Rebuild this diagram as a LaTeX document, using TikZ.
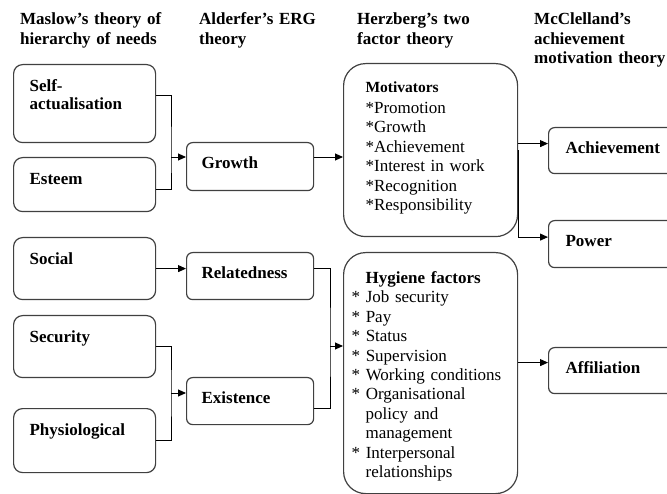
\documentclass[tikz,border=0pt]{standalone}
\usepackage{fontspec}
\setmainfont{Liberation Serif}
\usetikzlibrary{positioning,arrows.meta}
\tikzset{
  box/.style ={draw=black!75, line width=1.2pt, align=left, inner ysep=4pt,
               font=\bfseries\fontsize{17}{18}\selectfont},
  need/.style={box, rounded corners=9pt, text width=110pt, inner xsep=16pt,
               text height=23pt, text depth=#1, anchor=north west},
  erg/.style ={box, rounded corners=6pt, text width=97pt, inner xsep=15pt,
               text height=22pt, text depth=#1, anchor=north west},
  mcc/.style ={box, rounded corners=6pt, text width=106pt, inner xsep=17pt,
               text height=22pt, text depth=#1, anchor=north west},
  herz/.style={box, rounded corners=22pt, anchor=north west,
               font=\fontsize{17}{19.4}\selectfont},
  hdr/.style ={font=\bfseries\fontsize{17}{19.5}\selectfont, align=left,
               text width=150pt, inner sep=0pt, anchor=base west},
  fl/.style  ={-{Triangle[length=8pt,width=7pt]}, line width=0.9pt},
  ln/.style  ={line width=0.9pt},
}
\newcommand{\ind}{\hspace*{14pt}}
\newcommand{\stx}{{*}}

\begin{document}
\begin{tikzpicture}[x=1pt, y=-1pt]
  \useasboundingbox (0,0) rectangle (667,494);
  \clip (0,0) rectangle (667,494);

  % column headings
  \node[hdr] (maslow)     at (20,25)  {Maslow's theory of\\hierarchy of needs};
  \node[hdr] (alderfer)   at (199,25) {Alderfer's ERG\\theory};
  \node[hdr] (herzberg)   at (357,25) {Herzberg's two\\factor theory};
  \node[hdr] (mcclelland) at (534,25) {McClelland's\\achievement\\motivation theory};

  % Maslow
  \node[need=47pt] (sa)  at (13,64)  {Self-\\actualisation};
  \node[need=23pt] (est) at (13,157) {Esteem};
  \node[need=31pt] (soc) at (13,237) {Social};
  \node[need=31pt] (sec) at (13,315) {Security};
  \node[need=33pt] (phy) at (13,408) {Physiological};

  % ERG
  \node[erg=18pt] (gro) at (186,142) {Growth};
  \node[erg=17pt] (rel) at (186,252) {Relatedness};
  \node[erg=17pt] (exi) at (186,377) {Existence};

  % two factor
  \node[herz, text width=130pt, inner xsep=22pt, text height=25pt,
        text depth=140pt] (mot) at (343,63)
       {{\bfseries\fontsize{15.5}{19.4}\selectfont Motivators}\\[1.6pt]
        \stx Promotion\\ \stx Growth\\ \stx Achievement\\
        \stx Interest in work\\ \stx Recognition\\ \stx Responsibility};
  \node[herz, text width=158pt, inner xsep=8pt, text height=27pt,
        text depth=206pt] (hyg) at (343,252)
       {\ind\textbf{Hygiene factors}\\
        \stx{} Job security\\ \stx{} Pay\\ \stx{} Status\\
        \stx{} Supervision\\ \stx{} Working conditions\\
        \stx{} Organisational\\ \ind policy and\\ \ind management\\
        \stx{} Interpersonal\\ \ind relationships};

  % McClelland
  \node[mcc=16pt] (ach) at (548,127) {Achievement};
  \node[mcc=17pt] (pow) at (548,220) {Power};
  \node[mcc=16pt] (aff) at (548,347) {Affiliation};

  % junctions
  \coordinate (j1) at (171,157);
  \coordinate (j2) at (171,393);
  \coordinate (j3) at (330,346);
  \coordinate (achin) at ([yshift=7pt]ach.west);
  \coordinate (powin) at ([yshift=7pt]pow.west);
  \coordinate (affin) at ([yshift=8pt]aff.west);

  \draw[ln] ([yshift=8pt]sa.east) -| (j1) |- ([yshift=-5pt]est.east);
  \draw[fl] (j1) -- (j1 -| gro.west);
  \draw[fl] (j1 -| gro.east) -- (j1 -| mot.west);
  \draw[fl] (soc.east) -- (soc.east -| rel.west);
  \draw[ln] (sec.east) -| (j2) |- (phy.east);
  \draw[fl] (j2) -- (j2 -| exi.west);
  \draw[ln] ([yshift=8pt]rel.east) -| (j3) |- ([yshift=-7pt]exi.east);
  \draw[fl] (j3) -- (j3 -| hyg.west);
  \draw[fl] (achin -| mot.east) -- (achin);
  \draw[fl] (mot.east) |- (powin);
  \draw[fl] (affin -| hyg.east) -- (affin);
\end{tikzpicture}
\end{document}
